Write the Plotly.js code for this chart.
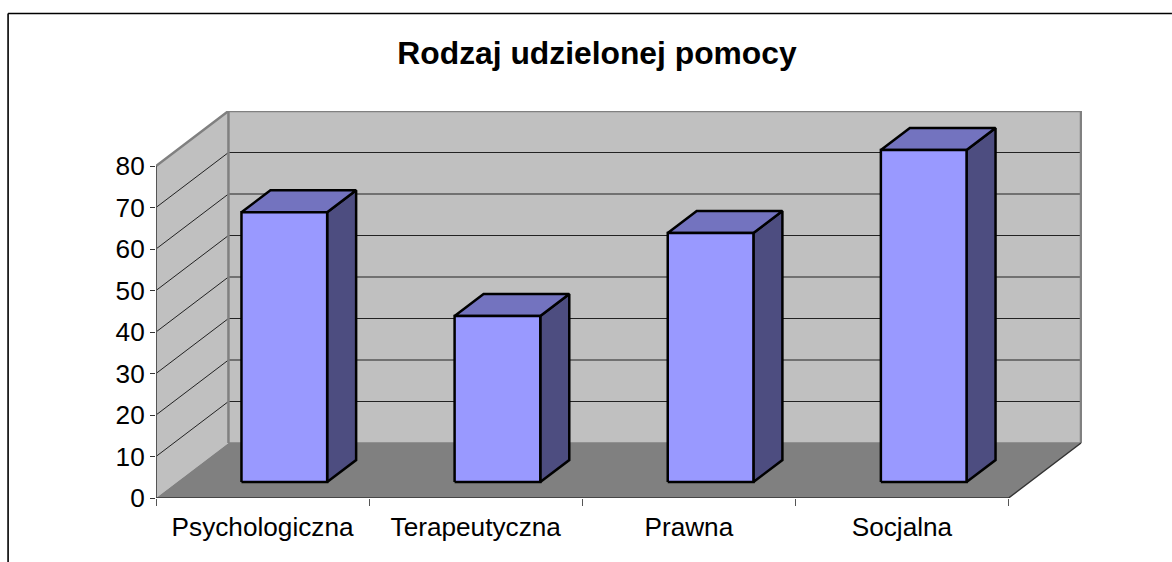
<!DOCTYPE html>
<html>
<head>
<meta charset="utf-8">
<script src="https://cdn.plot.ly/plotly-3.0.1.min.js"></script>
<style>html,body{margin:0;padding:0;background:#fff;overflow:hidden}#c{width:1172px;height:562px}</style>
</head>
<body>
<div id="c"></div>
<script>
const categories = ['Psychologiczna', 'Terapeutyczna', 'Prawna', 'Socjalna'];
const values = [65, 40, 60, 80];
const yTicks = [0, 10, 20, 30, 40, 50, 60, 70, 80];
const chartTitle = 'Rodzaj udzielonej pomocy';

const L = 155.5, R = 1082, T = 111, B = 498;
const catPx = 213.25, valPx = 4.15;
const xMax = (R - L) / catPx, yMax = (B - T) / valPx;
const depthX = 72.5 / catPx, depthY = 55 / valPx;
const yTop = yTicks[yTicks.length - 1], n = categories.length;
const barW = 0.402, barGap = (1 - barW) / 2;
const font = 'Liberation Sans, Arial, sans-serif';

function poly(xs, ys, fill, line, width) {
  return {x: xs, y: ys, mode: 'lines', fill: 'toself', fillcolor: fill, hoverinfo: 'skip',
    line: {color: line || fill, width: width === undefined ? 0 : width, simplify: false}, cliponaxis: false, showlegend: false};
}
function ln(xs, ys, color, width) {
  return {x: xs, y: ys, mode: 'lines', hoverinfo: 'skip', line: {color: color, width: width, simplify: false}, cliponaxis: false, showlegend: false};
}
const traces = [];
// walls and floor
traces.push(poly([depthX, depthX + n, depthX + n, depthX], [depthY, depthY, yTop + depthY, yTop + depthY], '#c0c0c0'));
traces.push(poly([0, depthX, depthX, 0], [0, depthY, yTop + depthY, yTop], '#c0c0c0'));
traces.push(poly([0, n, depthX + n, depthX], [0, 0, depthY, depthY], '#808080'));
// gridlines
yTicks.slice(1, -1).forEach(v => {
  traces.push(ln([0, depthX, depthX + n], [v, v + depthY, v + depthY], '#222222', 1));
});
// wall frame
traces.push(ln([0, depthX, depthX + n, depthX + n], [yTop, yTop + depthY, yTop + depthY, depthY], '#808080', 2.5));
traces.push(ln([depthX, depthX], [yTop + depthY, depthY], '#808080', 2.5));
traces.push(ln([depthX, depthX + n], [depthY, depthY], '#808080', 1.5));
// axes
traces.push(ln([0, 0], [0, yTop], '#555555', 2));
traces.push(ln([0, n, n + depthX], [0, 0, depthY], '#333333', 1.5));
// bars
const ix = 0.3 * depthX, iy = 0.29 * depthY, dx = 0.4 * depthX, dy = 0.4 * depthY;
values.forEach((v, i) => {
  const x0 = i + barGap + ix, x1 = x0 + barW, b = iy, t = v + iy;
  traces.push(poly([x1, x1 + dx, x1 + dx, x1, x1], [b, b + dy, t + dy, t, b], '#4d4d80', '#000', 2.5));
  traces.push(poly([x0, x1, x1 + dx, x0 + dx, x0], [t, t, t + dy, t + dy, t], '#7373bf', '#000', 2.5));
  traces.push(poly([x0, x1, x1, x0, x0], [b, b, t, t, b], '#9999ff', '#000', 2.5));
});

const W = R - L, H = B - T;
const px = p => (p - L) / W, py = p => (B - p) / H;
const layout = {
  width: 1172, height: 562, showlegend: false, hovermode: false,
  paper_bgcolor: '#fff', plot_bgcolor: 'rgba(0,0,0,0)',
  margin: {l: L, r: 1172 - R, t: T, b: 562 - B, pad: 0},
  title: {text: '<b>' + chartTitle + '</b>', x: 597 / 1172, xanchor: 'center', y: 1 - 53 / 562, yanchor: 'middle',
    font: {family: font, size: 31.8, color: '#000'}},
  xaxis: {range: [0, xMax], showgrid: false, zeroline: false, showline: false,
    tickmode: 'array', tickvals: categories.map((c, i) => i + 0.5), ticktext: categories, ticks: '', ticklabelstandoff: 11,
    tickfont: {family: font, size: 26.2, color: '#000'},
    minor: {tickmode: 'array', tickvals: [0, 1, 2, 3, 4], ticks: 'outside', ticklen: 7, tickwidth: 1, tickcolor: '#555', showgrid: false}},
  yaxis: {range: [0, yMax], showgrid: false, zeroline: false, showline: false,
    tickmode: 'array', tickvals: yTicks, ticks: 'outside', ticklen: 5, tickwidth: 1, tickcolor: '#333',
    tickfont: {family: font, size: 26.2, color: '#000'}},
  shapes: [
    {type: 'line', xref: 'paper', yref: 'paper', x0: px(7.5), x1: px(1172), y0: py(13.5), y1: py(13.5), line: {color: '#000', width: 1.6}},
    {type: 'line', xref: 'paper', yref: 'paper', x0: px(7.5), x1: px(7.5), y0: py(13.5), y1: py(562), line: {color: '#000', width: 1.6}}
  ]
};
Plotly.newPlot('c', traces, layout, {displayModeBar: false, staticPlot: true});
</script>
</body>
</html>
